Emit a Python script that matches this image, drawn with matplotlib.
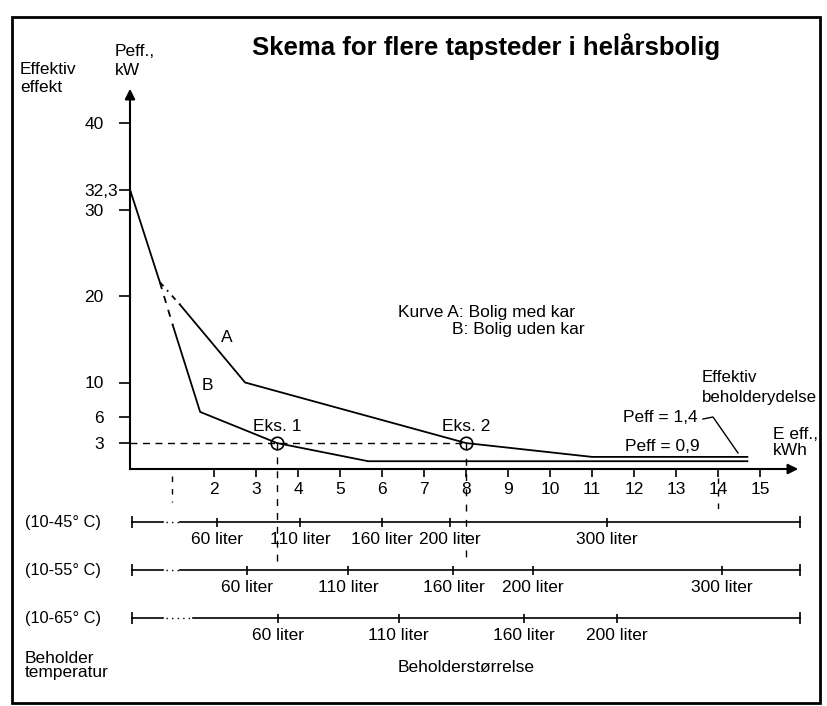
import matplotlib
matplotlib.use('Agg')
import matplotlib.pyplot as plt
from matplotlib.patches import Rectangle

plt.rcParams['font.family'] = ['Liberation Sans', 'DejaVu Sans']

# ---------------- data ----------------
curve_a_x = [0.0, 0.71, 1.19, 2.74, 8.0, 11.0, 14.7]
curve_a_y = [32.3, 21.6, 19.0, 10.0, 3.0, 1.4, 1.4]
curve_b_x = [0.0, 0.71, 1.02, 1.67, 3.5, 5.67, 14.7]
curve_b_y = [32.3, 21.6, 16.6, 6.6, 3.0, 0.9, 0.9]

eks_x = [3.5, 8.0]
eks_y = [3.0, 3.0]
eks_labels = ['Eks. 1', 'Eks. 2']

y_ticks = [3, 6, 10, 20, 30, 32.3, 40]
y_tick_labels = ['3', '6', '10', '20', '30', '32,3', '40']
x_ticks = list(range(2, 16))
x_tick_labels = [str(v) for v in x_ticks]

guide_x = [1.0, 14.0]          # short dashed guide lines below the x axis

row_names = ['(10-45° C)', '(10-55° C)', '(10-65° C)']
row_liters = [[60, 110, 160, 200, 300],
              [60, 110, 160, 200, 300],
              [60, 110, 160, 200]]
row_kwh = [[2.07, 4.05, 6.0, 7.62, 11.36],
           [2.79, 5.2, 7.7, 9.6, 14.1],
           [3.52, 6.4, 9.38, 11.6]]
row_end_kwh = 15.95

# ---------------- layout (pixel <-> data) ----------------
W, H = 827, 706
X0, SX = 130, 42.0
Y0, SY = 469, 8.65
FS = 12.5


def dx(p):
    return (p - X0) / SX


def dy(p):
    return (Y0 - p) / SY


def fp(x, y):
    return x / W, 1 - y / H


fig = plt.figure(figsize=(W / 100, H / 100), dpi=100)
ax = fig.add_axes([0, 0, 1, 1])
ax.set_xlim(dx(0), dx(W))
ax.set_ylim(dy(H), dy(0))
ax.patch.set_alpha(0)

for s in ['top', 'right']:
    ax.spines[s].set_visible(False)
ax.spines['left'].set_position(('data', 0))
ax.spines['bottom'].set_position(('data', 0))
ax.spines['left'].set_bounds(0, dy(95))
ax.spines['bottom'].set_bounds(0, dx(790))
ax.spines['left'].set_linewidth(1.5)
ax.spines['bottom'].set_linewidth(1.5)

ax.annotate('', xy=(0, dy(86)), xytext=(0, dy(100)),
            arrowprops=dict(arrowstyle='-|>', lw=1.5, color='k', mutation_scale=15))
ax.annotate('', xy=(dx(801), 0), xytext=(dx(785), 0),
            arrowprops=dict(arrowstyle='-|>', lw=1.5, color='k', mutation_scale=15))

ax.set_yticks(y_ticks)
ax.set_yticklabels(y_tick_labels)
ax.set_xticks(x_ticks)
ax.set_xticklabels(x_tick_labels)
ax.tick_params(axis='y', direction='out', length=8, width=1.2, pad=11, labelsize=12.5)
ax.tick_params(axis='x', direction='out', length=6, width=1.2, pad=3, labelsize=12.5)
ax.yaxis.get_major_ticks()[5].set_pad(1.0)

lw = 1.3
# curve A
ax.plot(curve_a_x[:2], curve_a_y[:2], color='k', lw=lw)
ax.plot(curve_a_x[1:3], curve_a_y[1:3], color='k', lw=lw, ls=(0, (3, 3, 1, 3)))
ax.plot(curve_a_x[2:], curve_a_y[2:], color='k', lw=lw)
# curve B
ax.plot(curve_b_x[1:3], curve_b_y[1:3], color='k', lw=lw, ls=(0, (4, 4)))
ax.plot(curve_b_x[2:], curve_b_y[2:], color='k', lw=lw)

# reference lines
ax.plot([0, eks_x[1]], [eks_y[0], eks_y[1]], color='k', lw=1.0, ls=(0, (5, 4)))
ax.plot([eks_x[0], eks_x[0]], [eks_y[0], dy(567)], color='k', lw=1.0, ls=(0, (5, 5)))
ax.plot([eks_x[1], eks_x[1]], [eks_y[1], dy(560)], color='k', lw=1.0, ls=(0, (5, 6)))
ax.plot([guide_x[0]] * 2, [dy(476), dy(502)], color='k', lw=1.0, ls=(0, (4, 5)))
ax.plot([guide_x[1]] * 2, [dy(478), dy(514)], color='k', lw=1.0, ls=(0, (4, 5)))

ax.plot(eks_x, eks_y, 'o', mfc='none', mec='k', ms=9, mew=1.2, zorder=5)
for x, y, t in zip(eks_x, eks_y, eks_labels):
    ax.text(x, y + dy(421) - dy(438), t, ha='center', va='center', fontsize=FS)

# curve labels
ax.text(dx(227), dy(338), 'A', ha='center', va='center', fontsize=FS)
ax.text(dx(207), dy(385), 'B', ha='center', va='center', fontsize=FS)

# Peff leader
ax.plot([dx(703), dx(713), dx(738)], [dy(419), dy(417), dy(453)], color='k', lw=1.0)

# scale rows
row_px = [522, 570, 618]
row_start = [1.19, 1.19, 1.5]
for i, name in enumerate(row_names):
    yr = dy(row_px[i])
    h_small = 4.5 / SY
    h_end = 6 / SY
    ax.plot([0.05, 0.79], [yr, yr], color='k', lw=1.2)
    ax.plot([0.85, row_start[i]], [yr, yr], color='k', lw=1.0, ls=(0, (1, 3)))
    ax.plot([row_start[i], row_end_kwh], [yr, yr], color='k', lw=1.2)
    ax.vlines([0.05, row_end_kwh], yr - h_end, yr + h_end, color='k', lw=1.2)
    ax.vlines(row_kwh[i], yr - h_small, yr + h_small, color='k', lw=1.2)
    for k, l in zip(row_kwh[i], row_liters[i]):
        ax.text(k, dy(row_px[i] + 17), f'{l} liter', ha='center', va='center', fontsize=FS)
    fig.text(*fp(25, row_px[i] + 1), name, ha='left', va='center', fontsize=11.8)

# texts
fig.text(*fp(486, 47), 'Skema for flere tapsteder i helårsbolig', ha='center', va='center',
         fontsize=18.5, fontweight='bold')
fig.text(*fp(20, 62), 'Effektiv\neffekt', ha='left', va='top', fontsize=FS, linespacing=1.22)
fig.text(*fp(115, 44), 'Peff.,\nkW', ha='left', va='top', fontsize=FS, linespacing=1.32)
fig.text(*fp(398, 312), 'Kurve A: Bolig med kar', ha='left', va='center', fontsize=FS)
fig.text(*fp(452, 330), 'B: Bolig uden kar', ha='left', va='center', fontsize=FS)
fig.text(*fp(702, 370), 'Effektiv\nbeholderydelse', ha='left', va='top', fontsize=12.2, linespacing=1.38)
fig.text(*fp(623, 418), 'Peff = 1,4', ha='left', va='center', fontsize=FS)
fig.text(*fp(625, 446), 'Peff = 0,9', ha='left', va='center', fontsize=FS)
fig.text(*fp(773, 427), 'E eff.,\nkWh', ha='left', va='top', fontsize=FS, linespacing=1.1)
fig.text(*fp(25, 651), 'Beholder\ntemperatur', ha='left', va='top', fontsize=FS, linespacing=0.95)
fig.text(*fp(398, 667), 'Beholderstørrelse', ha='left', va='center', fontsize=FS)

# frame
fig.add_artist(Rectangle(fp(12, 703), (820 - 12) / W, (703 - 17) / H,
                         transform=fig.transFigure, fill=False, lw=2, color='k'))

fig.savefig('out.png', dpi=100, facecolor='white')
